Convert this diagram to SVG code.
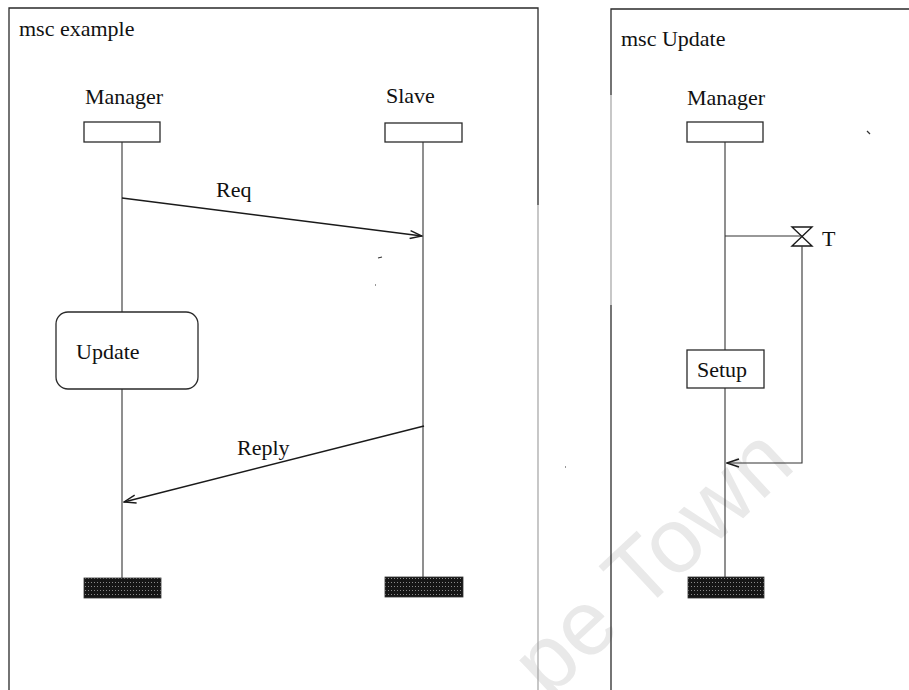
<svg xmlns="http://www.w3.org/2000/svg" width="909" height="690" viewBox="0 0 909 690">
  <style>
    .frame { fill: none; stroke: #2a2a2a; stroke-width: 1.3; }
    .faint { fill: none; stroke: #9a9a9a; stroke-width: 1.1; }
    .life { fill: none; stroke: #333; stroke-width: 1.1; }
    .head { fill: #fff; stroke: #2a2a2a; stroke-width: 1.3; }
    .msg { fill: none; stroke: #1a1a1a; stroke-width: 1.4; }
    .lbl { font-family: "Liberation Serif", "Times New Roman", serif; font-size: 22px; fill: #111; }
    .stop { fill: url(#halftone); stroke: #333; stroke-width: 0.8; }
    .wm { font-family: "Liberation Sans", Arial, sans-serif; font-size: 92px; fill: #e9e9e9; }
  </style>
  <defs>
    <pattern id="halftone" width="3" height="4" patternUnits="userSpaceOnUse">
      <rect width="3" height="4" fill="#161616"/>
      <rect x="1" y="2" width="1" height="1" fill="#8a8a8a"/>
    </pattern>
    <marker id="open" viewBox="0 0 14 10" refX="13" refY="5" markerWidth="14" markerHeight="10" markerUnits="userSpaceOnUse" orient="auto">
      <path d="M1,1 L13,5 L1,9" fill="none" stroke="#1a1a1a" stroke-width="1.4"/>
    </marker>
  </defs>

  <rect width="909" height="690" fill="#fff"/>

  <!-- background watermark -->
  <text class="wm" x="548" y="700" transform="rotate(-43 548 700)">pe Town</text>

  <!-- chart frames -->
  <g id="frame-example">
    <path class="frame" d="M9,690 V8 H538 V205"/>
    <line class="faint" x1="538" y1="205" x2="538" y2="690"/>
    <text class="lbl" x="19" y="36">msc example</text>
  </g>
  <g id="frame-update">
    <path class="frame" d="M611,95 V9 H909"/>
    <line class="faint" x1="611" y1="95" x2="611" y2="305"/>
    <line class="frame" x1="611" y1="305" x2="611" y2="690"/>
    <text class="lbl" x="621" y="46">msc Update</text>
  </g>

  <!-- msc example: instances -->
  <g id="manager-1">
    <text class="lbl" x="85" y="104">Manager</text>
    <rect class="head" x="84" y="122" width="76" height="20"/>
    <line class="life" x1="122" y1="142" x2="122" y2="312"/>
    <line class="life" x1="122" y1="389" x2="122" y2="578"/>
    <rect class="stop" x="84" y="578" width="77" height="20"/>
  </g>
  <g id="slave">
    <text class="lbl" x="386" y="103">Slave</text>
    <rect class="head" x="385" y="123" width="77" height="19"/>
    <line class="life" x1="423" y1="142" x2="423" y2="577"/>
    <rect class="stop" x="385" y="577" width="78" height="20"/>
  </g>
  <g id="update-ref">
    <rect class="head" x="56" y="312" width="142" height="77" rx="12" ry="12"/>
    <text class="lbl" x="76" y="359">Update</text>
  </g>

  <!-- msc Update: instance, timer and action -->
  <g id="manager-2">
    <text class="lbl" x="687" y="105">Manager</text>
    <rect class="head" x="687" y="122" width="76" height="20"/>
    <line class="life" x1="725" y1="142" x2="725" y2="350"/>
    <line class="life" x1="725" y1="388" x2="725" y2="577"/>
    <rect class="stop" x="688" y="577" width="76" height="21"/>
  </g>
  <g id="timer-T">
    <path class="msg" d="M792,227 H812 L792,246 H812 Z"/>
    <text class="lbl" x="822" y="246">T</text>
  </g>
  <g id="setup">
    <rect class="head" x="687" y="350" width="77" height="38"/>
    <text class="lbl" x="697" y="377">Setup</text>
  </g>

  <!-- messages and timer links -->
  <g id="connectors">
    <line class="msg" x1="122" y1="198" x2="422" y2="236" marker-end="url(#open)"/>
    <text class="lbl" x="216" y="197">Req</text>
    <line class="msg" x1="424" y1="426" x2="124" y2="502" marker-end="url(#open)"/>
    <text class="lbl" x="237" y="455">Reply</text>
    <line class="life" x1="725" y1="236" x2="802" y2="236"/>
    <polyline class="life" points="802,246 802,463 727,463" marker-end="url(#open)"/>
  </g>

  <!-- small specks -->
  <g id="specks" stroke="#333" stroke-width="1.2">
    <line x1="378" y1="258" x2="382" y2="257"/>
    <line x1="867" y1="131" x2="870" y2="134"/>
    <line x1="375" y1="285" x2="376" y2="285"/>
    <line x1="565" y1="467" x2="566" y2="467"/>
  </g>
</svg>
